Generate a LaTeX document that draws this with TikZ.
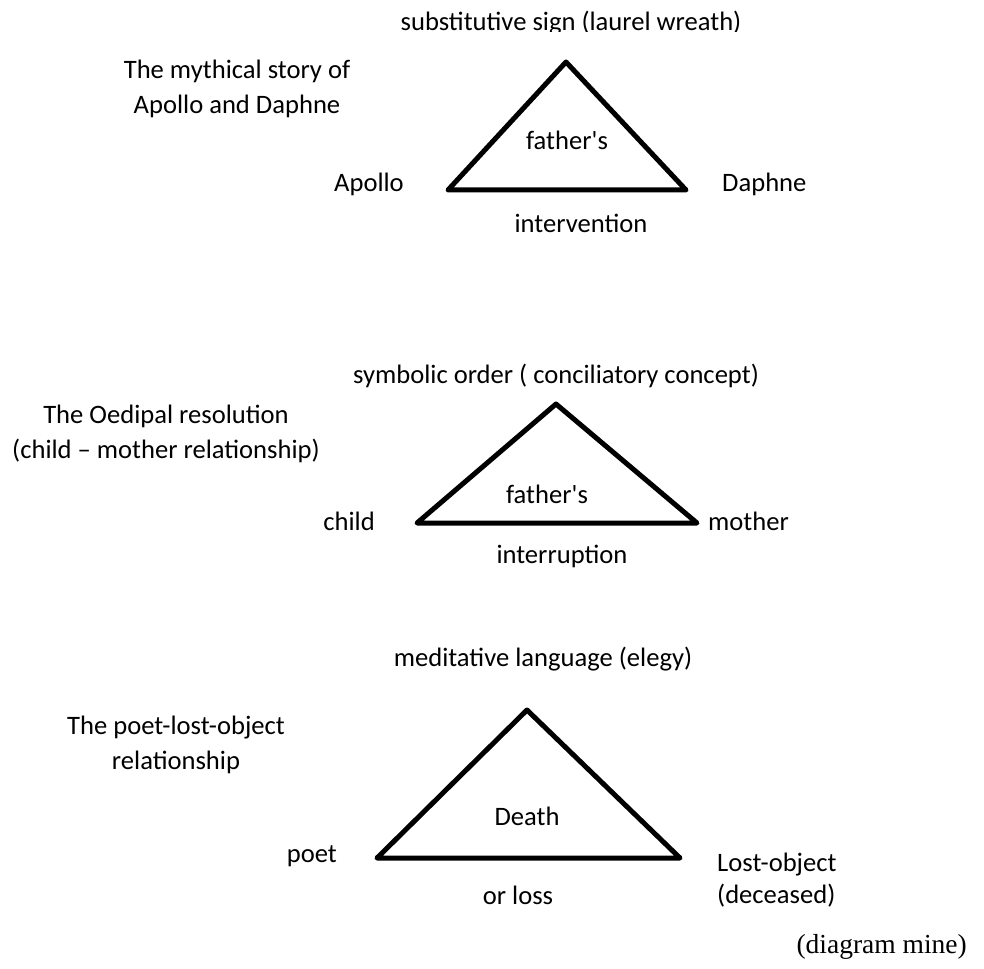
\documentclass[tikz,border=0pt]{standalone}
\usepackage{fontspec}
\setmainfont{Carlito}
\newfontfamily\notefont{Liberation Serif}
\usetikzlibrary{positioning}

\begin{document}
\begin{tikzpicture}[x=1pt, y=-1pt, font=\fontsize{26.6}{35}\selectfont]

		\tikzset{%
			txt/.style  = {inner sep=0pt, anchor=base},               % Beschriftung
			side/.style = {inner sep=0pt, anchor=base, align=center}, % Text links
			tri/.style  = {draw, line width=5pt, line join=round}     % Dreieck
		}

		\useasboundingbox (0,0) rectangle (984,968);

		% Apollo und Daphne
		\coordinate (top1) at (566,62);
		\coordinate (left1) at (448,190);
		\coordinate (right1) at (686,190);
		\draw[tri] (top1) -- (left1) -- (right1) -- cycle;
		\begin{scope}
			\clip (0,0) rectangle (984,32); % oben abgeschnitten
			\node[txt] (sign1) at (571,31) {substitutive sign (laurel wreath)};
		\end{scope}
		\node[side] (story1) at (237,114) {The mythical story of\\Apollo and Daphne};
		\node[txt, left=44pt of left1, anchor=base east, yshift=-2pt] (apollo) {Apollo};
		\node[txt, right=36pt of right1, anchor=base west, yshift=-2pt] (daphne) {Daphne};
		\node[txt] (father1) at (567,150) {father\textquotesingle s};
		\node[txt] (interv) at (581,233) {intervention};

		% Oedipus
		\coordinate (top2) at (556,404);
		\coordinate (left2) at (417,523);
		\coordinate (right2) at (697,523);
		\draw[tri] (top2) -- (left2) -- (right2) -- cycle;
		\node[txt] (sign2) at (556,383) {symbolic order ( conciliatory concept)};
		\node[side] (story2) at (166,458) {The Oedipal resolution\\(child – mother relationship)};
		\node[txt, left=42pt of left2, anchor=base east, yshift=-7pt] (child) {child};
		\node[txt, right=11pt of right2, anchor=base west, yshift=-7pt] (mother) {mother};
		\node[txt] (father2) at (547,503) {father\textquotesingle s};
		\node[txt] (interr) at (562,563) {interruption};

		% Elegie
		\coordinate (top3) at (527,710);
		\coordinate (left3) at (377,858);
		\coordinate (right3) at (680,858);
		\draw[tri] (top3) -- (left3) -- (right3) -- cycle;
		\node[txt] (sign3) at (543,666) {meditative language (elegy)};
		\node[side] (story3) at (176,769) {The poet-lost-object\\relationship};
		\node[txt, left=40pt of left3, anchor=base east, yshift=-4pt] (poet) {poet};
		\node[txt, right=37pt of right3, anchor=base west, yshift=-45pt, align=left,
			font=\fontsize{26.6}{32}\selectfont] (lost) {Lost-object\\(deceased)};
		\node[txt] (death) at (527,825) {Death};
		\node[txt] (loss) at (518,904) {or loss};

		\node[txt, anchor=base east, font=\notefont\fontsize{27.5}{33}\selectfont] (note) at (967,953) {(diagram mine)};
\end{tikzpicture}
\end{document}
